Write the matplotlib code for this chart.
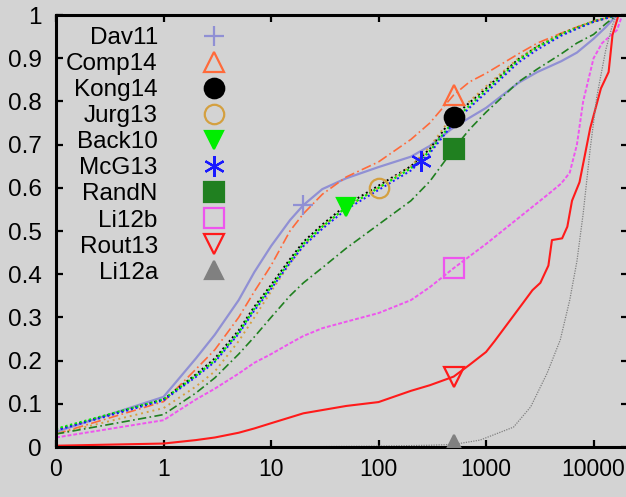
import numpy as np
import matplotlib
matplotlib.use('Agg')
import matplotlib.pyplot as plt
from matplotlib.lines import Line2D
from matplotlib.ticker import NullLocator, FixedLocator, FixedFormatter

plt.rcParams['font.family'] = ['Liberation Sans', 'DejaVu Sans']

# ---------------- data ----------------
names = ["Dav11", "Comp14", "Kong14", "Jurg13", "Back10", "McG13",
         "RandN", "Li12b", "Rout13", "Li12a"]

x_main = [0.1, 1, 2, 3, 5, 7, 10, 15, 20, 30, 50, 100, 200, 300, 500, 700,
          1000, 2000, 3000, 5000, 7000, 10000, 13000, 16500]

dav11 = [0.035, 0.116, 0.205, 0.26, 0.34, 0.405, 0.465, 0.525, 0.56, 0.597,
         0.622, 0.648, 0.672, 0.697, 0.74, 0.762, 0.785, 0.843, 0.868, 0.893,
         0.913, 0.945, 0.972, 1.0]
comp14 = [0.03, 0.105, 0.18, 0.225, 0.30, 0.36, 0.42, 0.50, 0.54, 0.585,
          0.625, 0.66, 0.712, 0.75, 0.815, 0.845, 0.865, 0.91, 0.935, 0.958,
          0.972, 0.985, 0.993, 1.0]
kong14 = [0.04, 0.11, 0.168, 0.205, 0.27, 0.325, 0.375, 0.435, 0.475, 0.515,
          0.56, 0.605, 0.65, 0.69, 0.765, 0.797, 0.83, 0.898, 0.927, 0.956,
          0.971, 0.985, 0.993, 1.0]
jurg13 = [0.03, 0.09, 0.14, 0.175, 0.245, 0.30, 0.36, 0.425, 0.465, 0.51,
          0.555, 0.60, 0.65, 0.695, 0.77, 0.80, 0.835, 0.9, 0.928, 0.957,
          0.972, 0.986, 0.993, 1.0]
back10 = [0.042, 0.11, 0.165, 0.20, 0.265, 0.32, 0.37, 0.43, 0.47, 0.51,
          0.555, 0.60, 0.645, 0.685, 0.755, 0.79, 0.825, 0.895, 0.925, 0.955,
          0.97, 0.985, 0.993, 1.0]
mcg13 = [0.038, 0.108, 0.162, 0.197, 0.262, 0.316, 0.366, 0.426, 0.465, 0.505,
         0.55, 0.595, 0.64, 0.68, 0.75, 0.785, 0.82, 0.89, 0.92, 0.952,
         0.968, 0.984, 0.992, 1.0]
randn = [0.03, 0.075, 0.125, 0.16, 0.215, 0.255, 0.30, 0.35, 0.38, 0.415,
         0.46, 0.515, 0.57, 0.615, 0.69, 0.735, 0.775, 0.845, 0.875, 0.91,
         0.935, 0.955, 0.98, 1.0]

x_li12b = [0.1, 1, 2, 3, 5, 7, 10, 15, 20, 30, 50, 100, 200, 300, 500, 1000,
           2000, 3000, 4000, 5000, 6000, 7000, 8000, 10000, 12000, 16500, 18500]
li12b = [0.022, 0.062, 0.11, 0.135, 0.17, 0.195, 0.215, 0.24, 0.257, 0.275,
         0.29, 0.31, 0.34, 0.37, 0.414, 0.47, 0.53, 0.565, 0.59, 0.61, 0.635,
         0.70, 0.80, 0.90, 0.935, 0.965, 1.0]

x_rout13 = [0.1, 1, 2, 3, 5, 7, 10, 20, 50, 100, 200, 300, 500, 700, 1000, 1200,
            2200, 2700, 3200, 3800, 4100, 5100, 5700, 6300, 7400, 9300, 11700,
            13800, 15000, 16600, 17000]
rout13 = [0.003, 0.008, 0.016, 0.022, 0.033, 0.043, 0.055, 0.078, 0.095, 0.104,
          0.13, 0.143, 0.163, 0.19, 0.22, 0.245, 0.333, 0.363, 0.38, 0.42,
          0.479, 0.483, 0.51, 0.57, 0.613, 0.738, 0.83, 0.868, 0.954, 0.99, 1.0]

x_li12a = [0.1, 10, 100, 300, 500, 880, 1800, 2600, 3700, 4900, 6000, 7000,
           8000, 9300, 10700, 13000, 15000, 16500]
li12a = [0.0, 0.0, 0.002, 0.004, 0.006, 0.016, 0.046, 0.093, 0.171, 0.248,
         0.34, 0.43, 0.54, 0.69, 0.81, 0.92, 0.977, 1.0]

series_x = [x_main, x_main, x_main, x_main, x_main, x_main, x_main,
            x_li12b, x_rout13, x_li12a]
series_y = [dav11, comp14, kong14, jurg13, back10, mcg13, randn,
            li12b, rout13, li12a]
marker_x = [20, 500, 500, 100, 50, 250, 500, 500, 500, 500]

x_ticks = [0.1, 1, 10, 100, 1000, 10000]
x_tick_labels = ["0", "1", "10", "100", "1000", "10000"]
y_ticks = [0, 0.1, 0.2, 0.3, 0.4, 0.5, 0.6, 0.7, 0.8, 0.9, 1.0]
y_tick_labels = ["0", "0.1", "0.2", "0.3", "0.4", "0.5", "0.6", "0.7", "0.8", "0.9", "1"]

# ---------------- styles ----------------
colors = ["#9090d4", "#ff6a3a", "#000000", "#d4a040", "#00ee00", "#1a1aff",
          "#208020", "#ee55ee", "#ff1a1a", "#808080"]
linestyles = ["-", (0, (6, 2, 1, 2)), (0, (1, 1.5)), (0, (1, 2)), (0, (1, 1.2)),
              (0, (1, 1.5)), (0, (5, 2, 1, 2)), (0, (2, 1)), "-", (0, (1, 1))]
linewidths = [1.6, 1.2, 1.4, 1.4, 1.6, 1.4, 1.2, 1.4, 1.5, 0.9]
markers = ["+", "^", "o", "o", "v", (6, 2, 0), "s", "s", "v", "^"]
filled = [True, False, True, False, True, True, True, False, False, True]
msizes = [14, 14, 14, 14, 13, 15, 14, 14, 14, 13]

BG = "#d3d3d3"

fig = plt.figure(figsize=(6.26, 4.97), dpi=100)
fig.patch.set_facecolor(BG)
ax = fig.add_axes([56 / 626, 50 / 497, 572 / 626, 432 / 497])
ax.set_facecolor(BG)
ax.set_xscale('log')

handles = []
for i in range(len(names)):
    xs = np.array(series_x[i], dtype=float)
    ys = np.array(series_y[i], dtype=float)
    ax.plot(xs, ys, color=colors[i], linestyle=linestyles[i],
            linewidth=linewidths[i], zorder=2 + i * 0.01)
    my = np.interp(np.log10(marker_x[i]), np.log10(xs), ys)
    mfc = colors[i] if filled[i] else 'none'
    mew = 1.6
    ax.plot([marker_x[i]], [my], linestyle='none', marker=markers[i],
            markersize=msizes[i], markerfacecolor=mfc,
            markeredgecolor=colors[i], markeredgewidth=mew, zorder=3)
    handles.append(Line2D([], [], linestyle='none', marker=markers[i],
                          markersize=msizes[i], markerfacecolor=mfc,
                          markeredgecolor=colors[i], markeredgewidth=mew))

ax.set_xlim(0.1, 20900)
ax.set_ylim(0, 1)
ax.xaxis.set_major_locator(FixedLocator(x_ticks))
ax.xaxis.set_major_formatter(FixedFormatter(x_tick_labels))
ax.xaxis.set_minor_locator(NullLocator())
ax.set_yticks(y_ticks)
ax.set_yticklabels(y_tick_labels)

for s in ax.spines.values():
    s.set_linewidth(2.2)
ax.tick_params(which='both', direction='in', top=True, right=True,
               length=5, width=1.6, labelsize=17.5, colors='black')
ax.tick_params(axis='y', pad=10)
ax.tick_params(axis='x', pad=8, labelsize=16.5)

leg = fig.legend(handles, names, loc='upper right',
                 bbox_to_anchor=(238 / 626, 1 - 27 / 497),
                 frameon=False, markerfirst=False, fontsize=17.5,
                 handlelength=2.0, handletextpad=1.3, labelspacing=0.167,
                 borderpad=0, borderaxespad=0, numpoints=1)

fig.savefig("out.png", dpi=100, facecolor=BG)
